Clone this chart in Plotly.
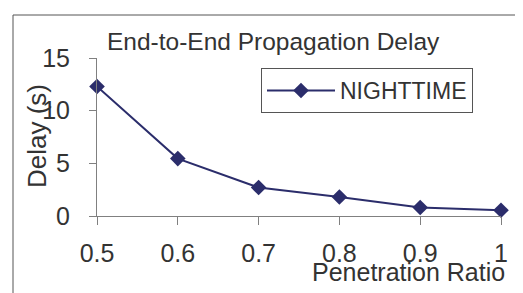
import plotly.graph_objects as go

penetration = [0.5, 0.6, 0.7, 0.8, 0.9, 1.0]
delay_night = [12.3, 5.45, 2.7, 1.8, 0.8, 0.55]
x_ticks = [0.5, 0.6, 0.7, 0.8, 0.9, 1.0]
x_ticklabels = ["0.5", "0.6", "0.7", "0.8", "0.9", "1"]
y_ticks = [0, 5, 10, 15]

navy = "#2B2D6B"
txt = "#333333"
font = "Liberation Sans, Arial, sans-serif"
FS = 25

fig = go.Figure()
fig.add_trace(go.Scatter(
    x=penetration, y=delay_night, mode="lines+markers", name="NIGHTTIME",
    line=dict(color=navy, width=2),
    marker=dict(symbol="diamond", size=12, color=navy),
    cliponaxis=False,
))

OFF = 8  # page body margin
W, H = 523, 293
L, T = 97 - OFF, 58 - OFF
pw, ph = 404, 158
R = W - L - pw
B = H - T - ph

def px(xs):
    return (xs - OFF - L) / pw

def py(ys):
    return (T + ph - (ys - OFF)) / ph

fig.update_layout(
    width=W, height=H,
    margin=dict(l=L, r=R, t=T, b=B),
    paper_bgcolor="white", plot_bgcolor="white",
    font=dict(family=font, size=FS, color=txt),
    showlegend=True,
    legend=dict(
        x=px(261), y=py(68), xanchor="left", yanchor="top",
        bordercolor="#555555", borderwidth=1, bgcolor="white",
        font=dict(size=23, color=txt),
        itemwidth=68,
    ),
    xaxis=dict(
        range=[0.5, 1.0], tickvals=x_ticks, ticktext=x_ticklabels,
        showgrid=False, zeroline=False, showline=True, linecolor="#808080", linewidth=1,
        ticks="outside", ticklen=8, tickcolor="#808080",
        ticklabelstandoff=7,
        tickfont=dict(size=FS, color=txt),
    ),
    yaxis=dict(
        range=[0, 15], tickvals=y_ticks,
        showgrid=False, zeroline=False, showline=True, linecolor="#808080", linewidth=1,
        ticks="outside", ticklen=7, tickcolor="#808080",
        ticklabelstandoff=14,
        tickfont=dict(size=FS, color=txt),
    ),
    shapes=[
        dict(type="line", xref="paper", yref="paper", x0=px(13), x1=px(540), y0=py(15), y1=py(15),
             line=dict(color="#555555", width=1)),
        dict(type="line", xref="paper", yref="paper", x0=px(13), x1=px(13), y0=py(15), y1=py(310),
             line=dict(color="#555555", width=1)),
    ],
    annotations=[
        dict(text="End-to-End Propagation Delay", xref="paper", yref="paper",
             x=px(273), y=py(42), xanchor="center", yanchor="middle", showarrow=False,
             font=dict(size=24.5, color=txt)),
        dict(text="Penetration Ratio", xref="paper", yref="paper",
             x=px(408), y=py(272), xanchor="center", yanchor="middle", showarrow=False,
             font=dict(size=FS, color=txt)),
        dict(text="Delay (s)", xref="paper", yref="paper", textangle=-90,
             x=px(37), y=py(136), xanchor="center", yanchor="middle", showarrow=False,
             font=dict(size=26, color=txt)),
    ],
)

fig.write_html("out.html")
